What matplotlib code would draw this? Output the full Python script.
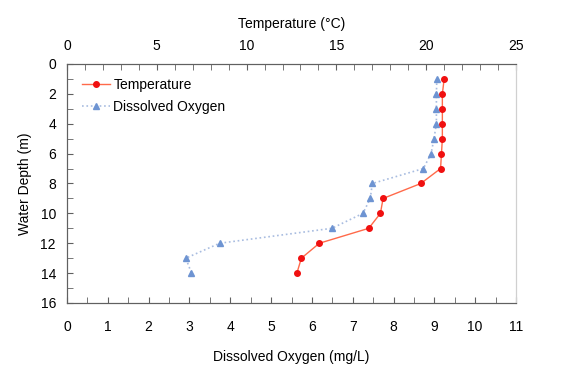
import matplotlib
matplotlib.use("Agg")
import matplotlib.pyplot as plt
from matplotlib.ticker import MultipleLocator

plt.rcParams['font.family'] = ['Liberation Sans', 'DejaVu Sans']

# Daten
depth = [1, 2, 3, 4, 5, 6, 7, 8, 9, 10, 11, 12, 13, 14]
temperature = [21.0, 20.9, 20.9, 20.9, 20.9, 20.85, 20.8, 19.7, 17.6, 17.45, 16.8, 14.05, 13.05, 12.8]
oxygen = [9.06, 9.05, 9.05, 9.05, 8.99, 8.92, 8.73, 7.48, 7.43, 7.25, 6.49, 3.74, 2.91, 3.05]

fig = plt.figure(figsize=(5.65, 3.87), dpi=100)
ax = fig.add_axes([67/565, 1 - 303/387, 449/565, 239/387])
ax2 = ax.twiny()

spine_col = '#606060'
for a in (ax, ax2):
    for s in ('left', 'top', 'bottom'):
        a.spines[s].set_color(spine_col)
    a.spines['right'].set_color('#d0d0d0')

# Sauerstoff (untere Achse)
l2, = ax.plot(oxygen, depth, linestyle=':', color='#a8bce0', linewidth=1.2,
              marker='^', markersize=4.5, markerfacecolor='#6e94d2',
              markeredgecolor='#6e94d2', label='Dissolved Oxygen')
ax.set_xlim(0, 11)
ax.set_ylim(16, 0)
ax.xaxis.set_major_locator(MultipleLocator(1))
ax.xaxis.set_minor_locator(MultipleLocator(0.5))
ax.yaxis.set_major_locator(MultipleLocator(2))
ax.yaxis.set_minor_locator(MultipleLocator(1))
ax.tick_params(axis='both', which='both', direction='in', color=spine_col,
               labelsize=10, pad=8, length=4)
ax.tick_params(axis='x', pad=12)
ax.set_xlabel('Dissolved Oxygen (mg/L)', fontsize=10, labelpad=12)
ax.set_ylabel('Water Depth (m)', fontsize=10, labelpad=6)

# Temperatur (obere Achse)
l1, = ax2.plot(temperature, depth, linestyle='-', color='#ff6a4a', linewidth=1.0,
               marker='o', markersize=4, markerfacecolor='#f01010',
               markeredgecolor='#f01010', label='Temperature')
ax2.set_xlim(0, 25)
ax2.xaxis.set_major_locator(MultipleLocator(5))
ax2.xaxis.set_minor_locator(MultipleLocator(1))
ax2.tick_params(axis='x', which='both', direction='in', color=spine_col,
                length=4, labelsize=10, pad=8)
ax2.set_xlabel('Temperature (°C)', fontsize=10, labelpad=8)

ax2.legend(handles=[l1, l2], loc='upper left', frameon=False, fontsize=10,
           handlelength=2.0, handletextpad=0.25, borderaxespad=0.6,
           labelspacing=0.6, bbox_to_anchor=(0.003, 1.0))

fig.savefig('out.png', dpi=100)
